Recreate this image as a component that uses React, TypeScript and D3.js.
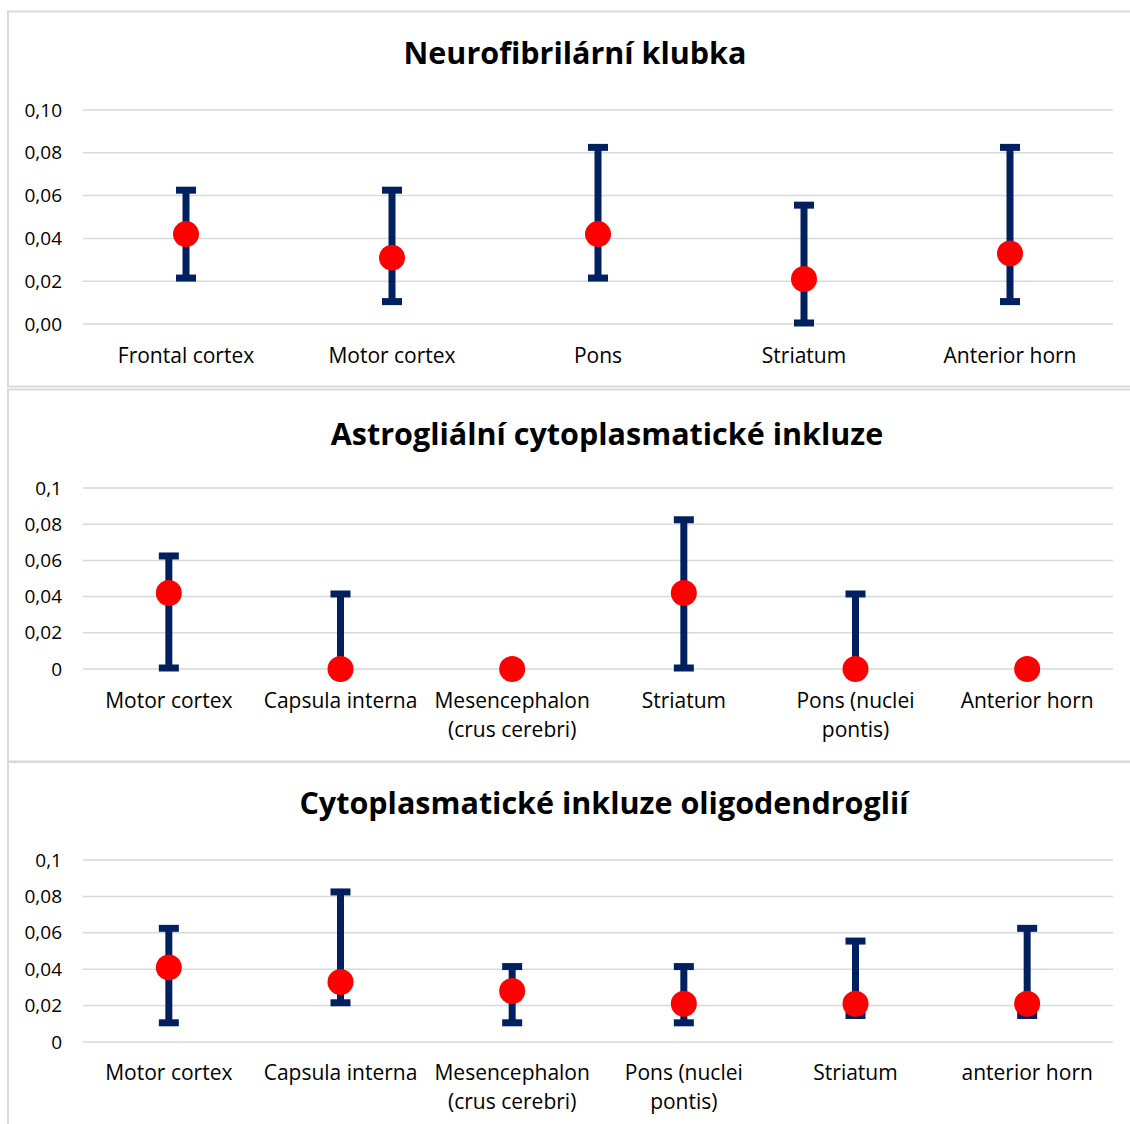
import React from 'react';
import * as d3 from 'd3';

// Panel 1 - Neurofibrilární klubka
const title1 = 'Neurofibrilární klubka';
const categories1 = ['Frontal cortex', 'Motor cortex', 'Pons', 'Striatum', 'Anterior horn'];
const means1 = [0.042, 0.031, 0.042, 0.021, 0.033];
const lows1 = [0.021, 0.010, 0.021, 0.0, 0.010];
const highs1 = [0.063, 0.063, 0.083, 0.056, 0.083];
const ticks1 = [0, 0.02, 0.04, 0.06, 0.08, 0.1];
const tickLabels1 = ['0,00', '0,02', '0,04', '0,06', '0,08', '0,10'];

// Panel 2 - Astrogliální cytoplasmatické inkluze
const title2 = 'Astrogliální cytoplasmatické inkluze';
const categories2 = ['Motor cortex', 'Capsula interna', 'Mesencephalon\n(crus cerebri)', 'Striatum', 'Pons (nuclei\npontis)', 'Anterior horn'];
const means2 = [0.042, 0, 0, 0.042, 0, 0];
const lows2 = [0, 0, null, 0, 0, null];
const highs2 = [0.063, 0.042, null, 0.083, 0.042, null];
const ticks2 = [0, 0.02, 0.04, 0.06, 0.08, 0.1];
const tickLabels2 = ['0', '0,02', '0,04', '0,06', '0,08', '0,1'];

// Panel 3 - Cytoplasmatické inkluze oligodendroglií
const title3 = 'Cytoplasmatické inkluze oligodendroglií';
const categories3 = ['Motor cortex', 'Capsula interna', 'Mesencephalon\n(crus cerebri)', 'Pons (nuclei\npontis)', 'Striatum', 'anterior horn'];
const means3 = [0.041, 0.033, 0.028, 0.021, 0.021, 0.021];
const lows3 = [0.010, 0.021, 0.010, 0.010, 0.014, 0.014];
const highs3 = [0.063, 0.083, 0.042, 0.042, 0.056, 0.063];
const ticks3 = [0, 0.02, 0.04, 0.06, 0.08, 0.1];
const tickLabels3 = ['0', '0,02', '0,04', '0,06', '0,08', '0,1'];

const FONT = "'Open Sans', Lato, sans-serif";
const NAVY = '#002060';
const GRID = '#d9d9d9';

type PanelProps = {
  title: string;
  titleX: number;
  titleY: number;
  categories: string[];
  means: number[];
  lows: (number | null)[];
  highs: (number | null)[];
  ticks: number[];
  tickLabels: string[];
  top: number;
  bottom: number;
  labelY: number;
};

const plotLeft = 83;
const plotRight = 1113;

function Panel(p: PanelProps) {
  const x = d3.scaleBand<string>().domain(p.categories).range([plotLeft, plotRight]);
  const y = d3.scaleLinear().domain([0, 0.1]).range([p.bottom, p.top]);
  const cx = (c: string) => (x(c) as number) + x.bandwidth() / 2;

  return (
    <g>
      <text x={p.titleX} y={p.titleY} textAnchor="middle" fontFamily={FONT} fontWeight="bold" fontSize={30.5} fill="#000">
        {p.title}
      </text>
      {p.ticks.map((t, i) => (
        <g key={'t' + i}>
          <line x1={plotLeft} x2={plotRight} y1={y(t)} y2={y(t)} stroke={GRID} strokeWidth={1.5} />
          <text x={62} y={y(t)} dy="0.35em" textAnchor="end" fontFamily={FONT} fontSize={19} fill="#000">
            {p.tickLabels[i]}
          </text>
        </g>
      ))}
      {p.categories.map((c, i) => (
        <text key={'c' + i} x={cx(c)} y={p.labelY} textAnchor="middle" fontFamily={FONT} fontSize={21} fill="#000">
          {c.split('\n').map((line, j) => (
            <tspan key={j} x={cx(c)} dy={j === 0 ? 0 : 29}>{line}</tspan>
          ))}
        </text>
      ))}
      {p.categories.map((c, i) => {
        const lo = p.lows[i];
        const hi = p.highs[i];
        if (lo === null || hi === null) return null;
        const xc = cx(c);
        return (
          <g key={'e' + i}>
            <line x1={xc} x2={xc} y1={y(lo)} y2={y(hi)} stroke={NAVY} strokeWidth={7} />
            <line x1={xc - 10} x2={xc + 10} y1={y(hi) + 1} y2={y(hi) + 1} stroke={NAVY} strokeWidth={7} />
            <line x1={xc - 10} x2={xc + 10} y1={y(lo) - 1} y2={y(lo) - 1} stroke={NAVY} strokeWidth={7} />
          </g>
        );
      })}
      {p.categories.map((c, i) => (
        <circle key={'m' + i} cx={cx(c)} cy={y(p.means[i])} r={13} fill="#ff0000" />
      ))}
    </g>
  );
}

export default function App() {
  return (
    <svg width={1130} height={1124} style={{ position: 'absolute', left: 0, top: 0, background: '#fff' }}>
      <rect x={0} y={0} width={1130} height={1124} fill="#fff" />
      <rect x={8} y={11.5} width={1140} height={375} fill="none" stroke={GRID} strokeWidth={2} />
      <rect x={8} y={389.5} width={1140} height={372} fill="none" stroke={GRID} strokeWidth={2} />
      <rect x={8} y={762} width={1140} height={400} fill="none" stroke={GRID} strokeWidth={2} />
      <Panel title={title1} titleX={575} titleY={64} categories={categories1} means={means1} lows={lows1} highs={highs1}
        ticks={ticks1} tickLabels={tickLabels1} top={110} bottom={324} labelY={363} />
      <Panel title={title2} titleX={607} titleY={445} categories={categories2} means={means2} lows={lows2} highs={highs2}
        ticks={ticks2} tickLabels={tickLabels2} top={488} bottom={669} labelY={708} />
      <Panel title={title3} titleX={604} titleY={814} categories={categories3} means={means3} lows={lows3} highs={highs3}
        ticks={ticks3} tickLabels={tickLabels3} top={860} bottom={1042} labelY={1080} />
    </svg>
  );
}
